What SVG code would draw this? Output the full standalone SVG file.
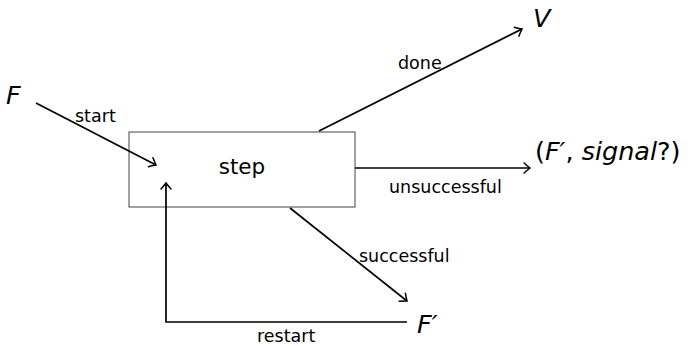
<svg xmlns="http://www.w3.org/2000/svg" width="696" height="346" viewBox="0 0 696 346">
<style>
.lbl{font-family:"DejaVu Sans",sans-serif;font-size:17.5px;fill:#000}
.math{font-family:"DejaVu Sans",sans-serif;font-style:italic;font-size:25.5px;fill:#000}
.rm{font-style:normal}
.edge{fill:none;stroke:#000;stroke-width:1.7}
</style>
<defs>
<marker id="ah" markerUnits="userSpaceOnUse" markerWidth="14" markerHeight="14" viewBox="-8 -7 10 14" refX="0" refY="0" orient="auto">
<path d="M-6,-5 Q-1.8,-1.3 0,0 Q-1.8,1.3 -6,5" fill="none" stroke="#000" stroke-width="1.5" stroke-linecap="round"/>
</marker>
</defs>
<rect width="696" height="346" fill="#fff"/>
<g id="step">
<rect x="129" y="132" width="226" height="75" fill="#fff" stroke="#444" stroke-width="1"/>
<text x="242" y="174" text-anchor="middle" style="font-family:'DejaVu Sans',sans-serif;font-size:21.5px">step</text>
</g>
<g id="F"><text class="math" x="6" y="104">F</text></g>
<g id="V"><text class="math" x="533" y="27">V</text></g>
<g id="Fsig"><text class="math" x="535" y="160"><tspan class="rm">(</tspan>F′<tspan class="rm">,</tspan> signal<tspan class="rm">?)</tspan></text></g>
<g id="Fp"><text class="math" x="417" y="333">F′</text></g>
<g id="connectors">
<line class="edge" x1="36" y1="103" x2="156" y2="165" marker-end="url(#ah)"/>
<line class="edge" x1="319" y1="131" x2="522" y2="29" marker-end="url(#ah)"/>
<line class="edge" x1="355" y1="168" x2="530" y2="168" marker-end="url(#ah)"/>
<line class="edge" x1="290" y1="208" x2="407" y2="301" marker-end="url(#ah)"/>
<path class="edge" d="M407,322 H166 V183" marker-end="url(#ah)"/>
<text class="lbl" x="75" y="122">start</text>
<text class="lbl" x="398" y="69">done</text>
<text class="lbl" x="389" y="193">unsuccessful</text>
<text class="lbl" x="359" y="262">successful</text>
<text class="lbl" x="257" y="342">restart</text>
</g>
</svg>
